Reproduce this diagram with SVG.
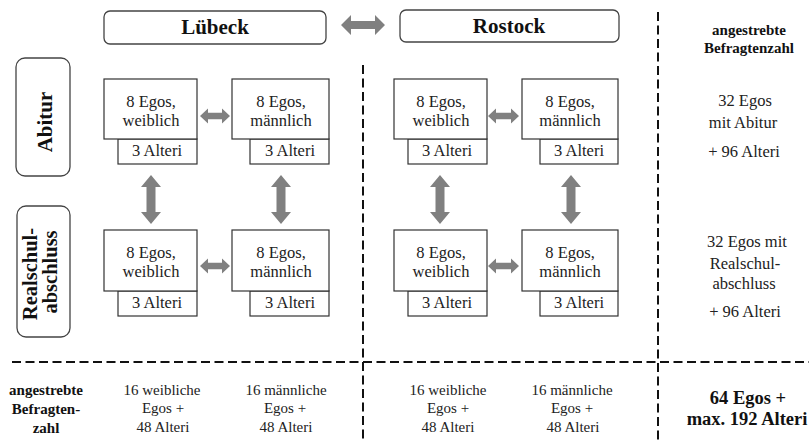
<svg xmlns="http://www.w3.org/2000/svg" width="809" height="443" viewBox="0 0 809 443">
<style>
.bg{fill:#fff}
.city{fill:#fff;stroke:#444;stroke-width:1.3}
.box{fill:#fff;stroke:#333;stroke-width:1.2}
.arr{fill:#808080}
.dash{stroke:#111;stroke-width:2;stroke-dasharray:9 4.5;fill:none}
text{font-family:"Liberation Serif","Times New Roman",serif;fill:#222;text-anchor:middle}
.t{font-size:16.5px}
.s{font-size:15px}
.r{font-size:16.5px}
.hb{font-size:21px;font-weight:bold;fill:#111}
.sb{font-size:15px;font-weight:bold;fill:#111}
.tb{font-size:18.5px;font-weight:bold;fill:#111}
</style>
<rect class="bg" x="0" y="0" width="809" height="443"/>
<g id="dashed-lines">
<line class="dash" x1="363" y1="65" x2="363" y2="443"/>
<line class="dash" x1="658" y1="12" x2="658" y2="443"/>
<line class="dash" x1="12" y1="362" x2="809" y2="362"/>
</g>
<g id="city-luebeck">
<rect class="city" x="104" y="11" width="222" height="33" rx="6"/>
<text class="hb" x="215" y="34">Lübeck</text>
</g>
<g id="city-rostock">
<rect class="city" x="400" y="10" width="219" height="32" rx="6"/>
<text class="hb" x="509" y="33">Rostock</text>
</g>
<g id="row-abitur">
<rect class="city" x="16" y="58" width="54" height="118" rx="9"/>
<text class="hb" transform="translate(52,122) rotate(-90)">Abitur</text>
</g>
<g id="row-realschule">
<rect class="city" x="17" y="206" width="53" height="131" rx="9"/>
<text class="hb" transform="translate(37,274) rotate(-90)" style="font-size:20.5px">Realschul-</text>
<text class="hb" transform="translate(56.5,272) rotate(-90)" style="font-size:20.5px">abschluss</text>
</g>
<g id="node-l-abi-w">
<rect class="box" x="118" y="139" width="79" height="25"/>
<rect class="box" x="104" y="79" width="93" height="60"/>
<text class="t" x="151" y="107">8 Egos,</text>
<text class="t" x="151" y="126">weiblich</text>
<text class="t" x="157" y="156">3 Alteri</text>
</g>
<g id="node-l-abi-m">
<rect class="box" x="250" y="139" width="79" height="25"/>
<rect class="box" x="232" y="79" width="97" height="60"/>
<text class="t" x="281" y="107">8 Egos,</text>
<text class="t" x="281" y="126">männlich</text>
<text class="t" x="290" y="156">3 Alteri</text>
</g>
<g id="node-r-abi-w">
<rect class="box" x="408" y="139" width="79" height="25"/>
<rect class="box" x="394" y="79" width="93" height="60"/>
<text class="t" x="441" y="107">8 Egos,</text>
<text class="t" x="441" y="126">weiblich</text>
<text class="t" x="447" y="156">3 Alteri</text>
</g>
<g id="node-r-abi-m">
<rect class="box" x="540" y="139" width="78" height="25"/>
<rect class="box" x="522" y="79" width="96" height="60"/>
<text class="t" x="570" y="107">8 Egos,</text>
<text class="t" x="570" y="126">männlich</text>
<text class="t" x="579" y="156">3 Alteri</text>
</g>
<g id="node-l-real-w">
<rect class="box" x="118" y="291" width="79" height="25"/>
<rect class="box" x="104" y="230" width="93" height="61"/>
<text class="t" x="151" y="258">8 Egos,</text>
<text class="t" x="151" y="277">weiblich</text>
<text class="t" x="157" y="308">3 Alteri</text>
</g>
<g id="node-l-real-m">
<rect class="box" x="250" y="291" width="79" height="25"/>
<rect class="box" x="232" y="230" width="97" height="61"/>
<text class="t" x="281" y="258">8 Egos,</text>
<text class="t" x="281" y="277">männlich</text>
<text class="t" x="290" y="308">3 Alteri</text>
</g>
<g id="node-r-real-w">
<rect class="box" x="408" y="291" width="79" height="25"/>
<rect class="box" x="394" y="230" width="93" height="61"/>
<text class="t" x="441" y="258">8 Egos,</text>
<text class="t" x="441" y="277">weiblich</text>
<text class="t" x="447" y="308">3 Alteri</text>
</g>
<g id="node-r-real-m">
<rect class="box" x="540" y="291" width="78" height="25"/>
<rect class="box" x="522" y="230" width="96" height="61"/>
<text class="t" x="570" y="258">8 Egos,</text>
<text class="t" x="570" y="277">männlich</text>
<text class="t" x="579" y="308">3 Alteri</text>
</g>
<g id="connectors">
<polygon class="arr" points="341,25 351,15 351,21 375,21 375,15 385,25 375,35 375,29 351,29 351,35"/>
<polygon class="arr" points="200,116 208,108.5 208,112.7 222,112.7 222,108.5 230,116 222,123.5 222,119.3 208,119.3 208,123.5"/>
<polygon class="arr" points="488,116 496,108.5 496,112.7 511,112.7 511,108.5 519,116 511,123.5 511,119.3 496,119.3 496,123.5"/>
<polygon class="arr" points="200,266 208,258.5 208,262.7 222,262.7 222,258.5 230,266 222,273.5 222,269.3 208,269.3 208,273.5"/>
<polygon class="arr" points="488,266 496,258.5 496,262.7 511,262.7 511,258.5 519,266 511,273.5 511,269.3 496,269.3 496,273.5"/>
<polygon class="arr" points="151,175 161,187 155.5,187 155.5,212 161,212 151,224 141,212 146.5,212 146.5,187 141,187"/>
<polygon class="arr" points="281,175 291,187 285.5,187 285.5,212 291,212 281,224 271,212 276.5,212 276.5,187 271,187"/>
<polygon class="arr" points="440,175 450,187 444.5,187 444.5,212 450,212 440,224 430,212 435.5,212 435.5,187 430,187"/>
<polygon class="arr" points="571,175 581,187 575.5,187 575.5,212 581,212 571,224 561,212 566.5,212 566.5,187 561,187"/>
</g>
<g id="summary-right">
<text class="sb" x="749" y="35">angestrebte</text>
<text class="sb" x="749" y="53">Befragtenzahl</text>
<text class="r" x="745" y="106">32 Egos</text>
<text class="r" x="743" y="128">mit Abitur</text>
<text class="r" x="744" y="157">+ 96 Alteri</text>
<text class="r" x="747" y="247">32 Egos mit</text>
<text class="r" x="745" y="269">Realschul-</text>
<text class="r" x="744" y="289">abschluss</text>
<text class="r" x="745" y="317">+ 96 Alteri</text>
</g>
<g id="summary-bottom">
<text class="sb" x="46" y="395">angestrebte</text>
<text class="sb" x="46" y="414">Befragten-</text>
<text class="sb" x="46" y="433">zahl</text>
<text class="s" x="162" y="395">16 weibliche</text>
<text class="s" x="163" y="413">Egos +</text>
<text class="s" x="163" y="432">48 Alteri</text>
<text class="s" x="286" y="395">16 männliche</text>
<text class="s" x="285" y="413">Egos +</text>
<text class="s" x="286" y="432">48 Alteri</text>
<text class="s" x="448" y="395">16 weibliche</text>
<text class="s" x="448" y="413">Egos +</text>
<text class="s" x="448" y="432">48 Alteri</text>
<text class="s" x="572" y="395">16 männliche</text>
<text class="s" x="572" y="413">Egos +</text>
<text class="s" x="573" y="432">48 Alteri</text>
<text class="tb" x="748" y="404">64 Egos +</text>
<text class="tb" x="747" y="425">max. 192 Alteri</text>
</g>
</svg>
